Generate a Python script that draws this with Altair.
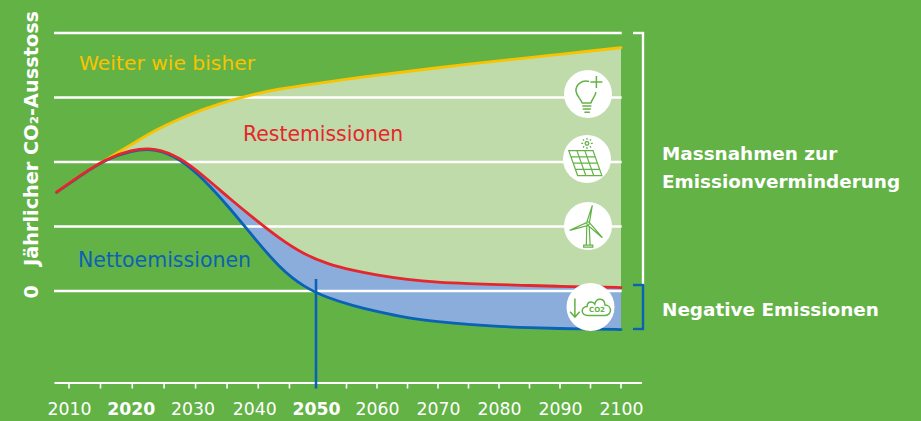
import altair as alt
import pandas as pd

# ---------- data ----------
years = [2008, 2012, 2016, 2020, 2024, 2028, 2032, 2036, 2040, 2044, 2048, 2052, 2056,
         2060, 2065, 2070, 2075, 2080, 2085, 2090, 2095, 2100]
weiter = [1.535, 1.806, 2.039, 2.264, 2.496, 2.674, 2.829, 2.953, 3.054, 3.132, 3.186, 3.245, 3.295,
          3.344, 3.403, 3.462, 3.516, 3.569, 3.620, 3.670, 3.721, 3.772]
rest = [1.535, 1.806, 2.050, 2.190, 2.225, 2.070, 1.770, 1.435, 1.120, 0.820, 0.570, 0.415, 0.320,
        0.245, 0.175, 0.135, 0.115, 0.100, 0.085, 0.072, 0.062, 0.054]
netto = [1.530, 1.800, 2.040, 2.180, 2.215, 2.050, 1.720, 1.290, 0.820, 0.370, 0.060, -0.110, -0.225,
         -0.320, -0.420, -0.475, -0.520, -0.550, -0.570, -0.582, -0.590, -0.597]
grid_values = [0, 1, 2, 3, 4]
label_years = [2010, 2020, 2030, 2040, 2050, 2060, 2070, 2080, 2090, 2100]
bold_years = [2020, 2050]
tick_years = [2010, 2015.1, 2020.25, 2025.4, 2030.5, 2035.6, 2040.65, 2045.7, 2055,
              2060, 2065, 2070, 2075, 2080, 2085, 2090, 2095, 2100]
net_zero_year = [2050]

BG = "#63B246"
WHITE = "#FFFFFF"
YELLOW = "#F9C300"
RED = "#E5262D"
BLUE = "#0A62B5"
LIGHT = "#BEDBA9"
LBLUE = "#8AADDC"
FONT = "DejaVu Sans"
GREEN_ICON = "#63B246"

df = pd.DataFrame({"year": years, "weiter": weiter, "rest": rest, "netto": netto})
band = df[df.year >= 2016]

X = alt.X("year:Q",
          scale=alt.Scale(domain=[2010, 2050, 2100], range=[61, 308, 613], nice=False, zero=False),
          axis=alt.Axis(values=label_years, format="d", domain=False, ticks=False, grid=False,
                        title=None, labelFontSize=17.3, labelColor=WHITE, labelFont=FONT,
                        labelPadding=17, labelAngle=0, labelOverlap=False, labelFlush=False,
                        labelFontWeight=alt.expr("indexof(%s, datum.value) >= 0 ? 700 : 400" % bold_years)))
Y_SCALE = alt.Scale(domain=[-1.426, 4], range=[375, 25], nice=False, zero=False)
CURVE = "basis"

green_band = alt.Chart(band).mark_area(color=LIGHT, interpolate=CURVE, opacity=1).encode(
    x=X, y=alt.Y("weiter:Q", scale=Y_SCALE, axis=None), y2="rest:Q")
blue_band = alt.Chart(band).mark_area(color=LBLUE, interpolate=CURVE, opacity=1).encode(
    x=X, y=alt.Y("rest:Q", scale=Y_SCALE, axis=None), y2="netto:Q")

grid = alt.Chart(pd.DataFrame({"v": grid_values})).mark_rule(color=WHITE, strokeWidth=2.5).encode(
    y=alt.Y("v:Q", scale=Y_SCALE, axis=None), x=alt.value(46), x2=alt.value(613.7))

def line(col, color):
    return alt.Chart(df).mark_line(color=color, strokeWidth=2.8, interpolate=CURVE, strokeCap="round").encode(
        x=X, y=alt.Y(f"{col}:Q", scale=Y_SCALE, axis=None))

axis_line = alt.Chart(pd.DataFrame({"a": [0]})).mark_rule(color=WHITE, strokeWidth=2.2).encode(
    y=alt.value(375), x=alt.value(46.5), x2=alt.value(634))
ticks = alt.Chart(pd.DataFrame({"year": tick_years})).mark_rule(color=WHITE, strokeWidth=1.6).encode(
    x=X, y=alt.value(375), y2=alt.value(380.5))
zero_rule = alt.Chart(pd.DataFrame({"year": net_zero_year})).mark_rule(color=BLUE, strokeWidth=2.6).encode(
    x=X, y=alt.value(271), y2=alt.value(380.5))

def seg(x1, y1, x2, y2, color):
    return alt.Chart(pd.DataFrame({"a": [0]})).mark_rule(color=color, strokeWidth=2.4).encode(
        x=alt.value(x1), x2=alt.value(x2), y=alt.value(y1), y2=alt.value(y2))

brackets = [
    seg(625, 25, 636, 25, WHITE), seg(635, 24, 635, 277, WHITE),
    seg(625, 277, 636, 277, BLUE), seg(635, 276, 635, 322, BLUE), seg(625, 321, 636, 321, BLUE),
]

def txt(s, x, y, color=WHITE, size=19, weight=400, align="left", angle=0):
    return alt.Chart(pd.DataFrame({"a": [0]})).mark_text(
        text=s, color=color, fontSize=size, fontWeight=weight, font=FONT, align=align,
        baseline="middle", angle=angle).encode(x=alt.value(x), y=alt.value(y))

labels = [
    txt("Weiter wie bisher", 71, 56, YELLOW, 20.3),
    txt("Restemissionen", 235, 127, RED, 20.4),
    txt("Nettoemissionen", 70, 253, BLUE, 20.5),
    txt("Massnahmen zur", 654, 146, WHITE, 18.4, 700),
    txt("Emissionverminderung", 654, 174, WHITE, 18.4, 700),
    txt("Negative Emissionen", 654, 302, WHITE, 18.4, 700),
    txt("Jährlicher CO₂-Ausstoss", 24, 258, WHITE, 19.3, 700, "left", 270),
    txt("0", 24, 284, WHITE, 19, 700, "center", 270),
]

def circle(x, y):
    return alt.Chart(pd.DataFrame({"a": [0]})).mark_point(
        shape="circle", filled=True, color=WHITE, size=2304, opacity=1).encode(x=alt.value(x), y=alt.value(y))

def icon(path, x, y, sw=1.5):
    return alt.Chart(pd.DataFrame({"a": [0]})).mark_point(
        shape=path, filled=False, stroke=GREEN_ICON, strokeWidth=sw, size=2304, opacity=1
    ).encode(x=alt.value(x), y=alt.value(y))

BULB = ("M0.05 -0.52C-0.25 -0.6 -0.52 -0.4 -0.5 -0.12C-0.48 0.08 -0.3 0.2 -0.24 0.38L0.12 0.38"
        "C0.18 0.2 0.3 0.1 0.33 -0.08M0.35 -0.75L0.35 -0.25M0.1 -0.5L0.6 -0.5"
        "M-0.24 0.5L0.14 0.5M-0.22 0.62L0.12 0.62M-0.15 0.76L0.08 0.76")
SOLAR = ("M-0.76 -0.35L0.25 -0.35L0.62 0.69L-0.39 0.69Z"
         "M-0.67 -0.09L0.34 -0.09M-0.575 0.17L0.43 0.17M-0.48 0.43L0.53 0.43"
         "M-0.42 -0.35L-0.05 0.69M-0.09 -0.35L0.28 0.69"
         "M-0.08 -0.65L-0.04 -0.72L0.04 -0.72L0.08 -0.65L0.04 -0.58L-0.04 -0.58Z"
         "M0 -0.88L0 -0.8M0 -0.5L0 -0.42M-0.24 -0.65L-0.16 -0.65M0.16 -0.65L0.24 -0.65"
         "M-0.17 -0.82L-0.12 -0.77M0.12 -0.53L0.17 -0.48M0.17 -0.82L0.12 -0.77M-0.12 -0.53L-0.17 -0.48")
WIND = ("M0.18 -0.86L0.06 -0.15L-0.04 -0.18ZM-0.76 0.18L-0.06 -0.14L-0.02 -0.02Z"
        "M0.6 0.49L0.08 -0.12L0 -0.02Z"
        "M-0.05 0L-0.07 0.8L0.09 0.8L0.05 0M-0.18 0.8L0.2 0.8L0.2 0.88L-0.18 0.88Z")
ARROW = "M-0.65 -0.35L-0.65 0.42M-0.85 0.2L-0.65 0.42L-0.45 0.2"
CLOUD = ("M-0.1 0.35C-0.42 0.35 -0.42 -0.02 -0.14 -0.02C-0.14 -0.24 0.1 -0.26 0.18 -0.12"
         "C0.24 -0.42 0.6 -0.38 0.6 -0.08C0.9 -0.08 0.92 0.35 0.6 0.35Z")

icons = [
    circle(580, 86), icon(BULB, 580, 86),
    circle(579, 151), icon(SOLAR, 579, 151, 1.2),
    circle(580, 218), icon(WIND, 580, 218, 1.2),
    circle(582.5, 299), icon(ARROW, 582.5, 299), icon(CLOUD, 582.5, 299),
    txt("CO2", 589, 302, GREEN_ICON, 7, 700, "center"),
]

chart = alt.layer(
    green_band, blue_band, grid, axis_line, ticks,
    line("weiter", YELLOW), line("netto", BLUE), line("rest", RED),
    zero_rule, *brackets, *labels, *icons
).resolve_scale(x="shared", y="shared").properties(
    width=905, height=375, background=BG,
    padding={"left": 0, "top": 0, "right": 0, "bottom": 37},
    autosize=alt.AutoSizeParams(type="none"),
).configure_view(stroke=None)

chart.save("out.html", embed_options={
    "renderer": "svg", "actions": False,
    "defaultStyle": "html,body{background:#63B246;overflow:hidden}",
})
